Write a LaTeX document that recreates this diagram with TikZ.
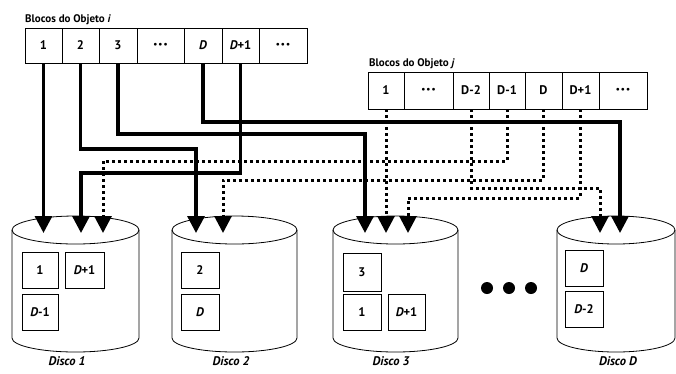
\documentclass[tikz,border=0pt]{standalone}
\usepackage{fontspec}
\setmainfont{PT Sans}
\usetikzlibrary{arrows.meta}
\begin{document}
\begin{tikzpicture}[x=1pt,y=-1pt,
  blk/.style={draw, line width=0.9pt, inner sep=0pt, fill=white,
    font=\bfseries\fontsize{12.5}{13}\selectfont},
  ibox/.style={blk, minimum height=36pt},
  sol/.style={line width=3.3pt, -{Triangle[length=17pt,width=17pt]}},
  dot/.style={line width=3pt, dash pattern=on 3pt off 3pt, -{Triangle[length=17pt,width=17pt]}},
  cyl/.style={line width=0.8pt},
  lbl/.style={font=\bfseries\fontsize{11}{13}\selectfont, anchor=base west, inner sep=0pt},
  dlbl/.style={font=\bfseries\itshape\fontsize{12.5}{14}\selectfont, inner sep=0pt},
]
\useasboundingbox (0,0) rectangle (676,373);
\newcommand\tdots{{\fontsize{9}{9}\selectfont •\kern1pt•\kern1pt•}}
\newcommand\Dv{{\itshape D}}

% cylinders
\foreach \l/\r in {12/139, 172/297, 333/458, 557/675} {
  \pgfmathsetmacro\c{(\l+\r)/2}
  \pgfmathsetmacro\rx{(\r-\l)/2}
  \draw[cyl] (\c,230) ellipse [x radius=\rx pt, y radius=14pt];
  \draw[cyl] (\l,230) -- (\l,338) arc[start angle=180, end angle=360, x radius=\rx pt, y radius=14pt] -- (\r,230);
}

% labels
\node[lbl] (li) at (25,22) {Blocos do Objeto \textit{i}};
\node[lbl] (lj) at (369,66) {Blocos do Objeto \textit{j}};

% object i blocks
\begin{scope}[every node/.style={blk, minimum height=35pt}]
\node[minimum width=37pt] (i1) at (43.5,45.5) {1};
\node[minimum width=37pt] (i2) at (80.5,45.5) {2};
\node[minimum width=38pt] (i3) at (118,45.5) {3};
\node[minimum width=47pt] (idA) at (160.5,45.5) {\tdots};
\node[minimum width=38pt] (iD) at (203,45.5) {\Dv};
\node[minimum width=37pt] (iDp1) at (240.5,45.5) {\Dv+1};
\node[minimum width=48pt] (idB) at (283,45.5) {\tdots};
\end{scope}

% object j blocks
\begin{scope}[every node/.style={blk, minimum height=37pt}]
\node[minimum width=36pt] (j1) at (386,90.5) {1};
\node[minimum width=49pt] (jdA) at (428.5,90.5) {\tdots};
\node[minimum width=36pt] (jDm2) at (471,90.5) {D-2};
\node[minimum width=36pt] (jDm1) at (507,90.5) {D-1};
\node[minimum width=37pt] (jD) at (543.5,90.5) {D};
\node[minimum width=37pt] (jDp1) at (580.5,90.5) {D+1};
\node[minimum width=48pt] (jdB) at (623,90.5) {\tdots};
\end{scope}

% arrow end points
\coordinate (a1a) at (i1.south |- 0,233);
\coordinate (a1b) at (81,233);
\coordinate (a1c) at (103,233);
\coordinate (a2a) at (196,233);
\coordinate (a2b) at (223,233);
\coordinate (a3a) at (365,233);
\coordinate (a3b) at (j1.south |- 0,233);
\coordinate (a3c) at (408,233);
\coordinate (aDa) at (600,233);
\coordinate (aDb) at (620,233);

% dotted connectors (object j)
\draw[dot] (jDm1.south) -- (jDm1.south |- 0,161) -| (a1c);
\draw[dot] (jD.south) -- (jD.south |- 0,180) -| (a2b);
\draw[dot] (j1.south) -- (a3b);
\draw[dot] (jDp1.south) -- (jDp1.south |- 0,198) -| (a3c);
\draw[dot] (jDm2.south) -- (jDm2.south |- 0,188) -| (aDa);

% solid connectors (object i)
\draw[sol] (i1.south) -- (a1a);
\draw[sol] (iDp1.south) -- (iDp1.south |- 0,173) -| (a1b);
\draw[sol] (i2.south) -- (i2.south |- 0,149) -| (a2a);
\draw[sol] (i3.south) -- (i3.south |- 0,134) -| (a3a);
\draw[sol] (iD.south) -- (iD.south |- 0,122) -| (aDb);

% blocks inside disks
\node[ibox, minimum width=36pt] (d1a) at (40,270) {1};
\node[ibox, minimum width=39pt] (d1b) at (84.5,270) {\Dv+1};
\node[ibox, minimum width=36pt] (d1c) at (40,312) {\Dv-1};
\node[ibox, minimum width=38pt] (d2a) at (200,270) {2};
\node[ibox, minimum width=38pt] (d2b) at (200,312) {\Dv};
\node[ibox, minimum width=38pt, minimum height=38pt] (d3a) at (362,272) {3};
\node[ibox, minimum width=38pt] (d3b) at (362,312) {1};
\node[ibox, minimum width=37pt] (d3c) at (406.5,312) {\Dv+1};
\node[ibox, minimum width=38pt] (dDa) at (584,268.5) {\Dv};
\node[ibox, minimum width=38pt] (dDb) at (584,309) {\Dv-2};

% ellipsis dots
\foreach \x in {487,509,531} \fill (\x,288) circle[radius=6pt];

% disk labels
\node[dlbl] (n1) at (67,361) {Disco 1};
\node[dlbl] (n2) at (231,361) {Disco 2};
\node[dlbl] (n3) at (391,361) {Disco 3};
\node[dlbl] (nD) at (618,361) {Disco \Dv};
\end{tikzpicture}
\end{document}
